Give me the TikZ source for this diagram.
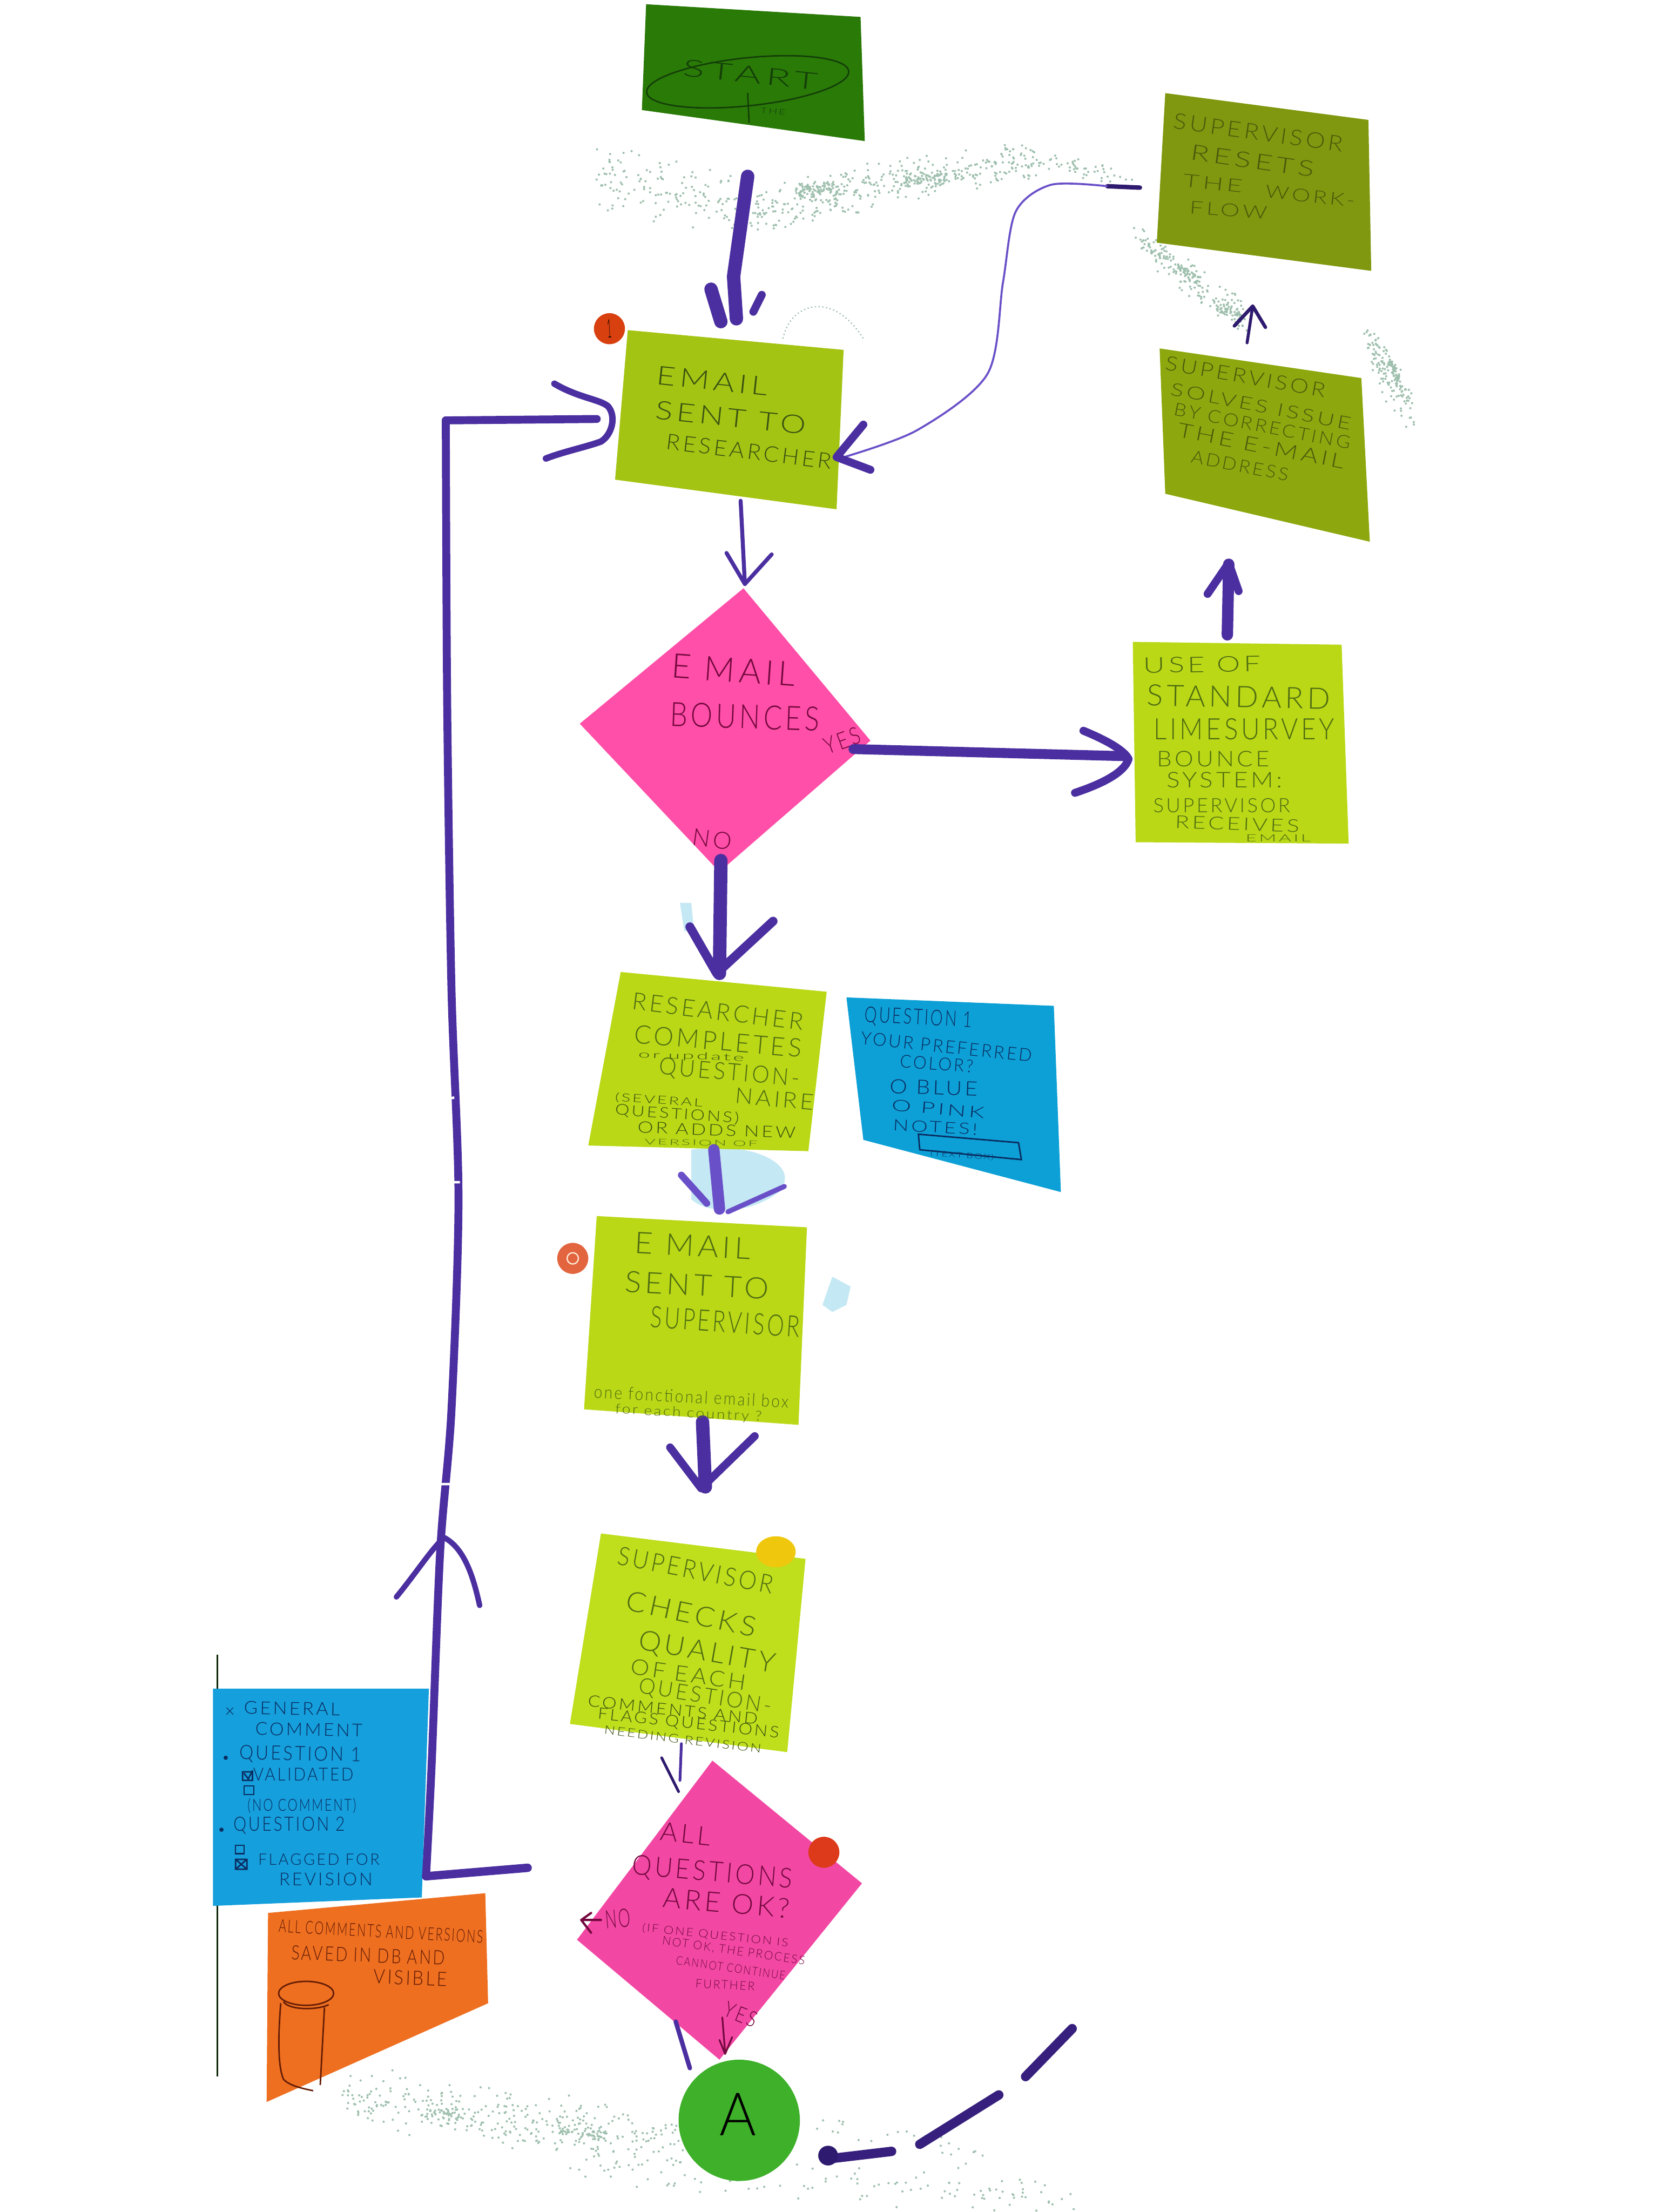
\documentclass[tikz,border=0pt]{standalone}
\usepackage{fontspec}
\usepackage{graphicx}
\usetikzlibrary{shapes.geometric}
\setmainfont{Lato}[UprightFont=* Light,LetterSpace=12]
\newlength\uu \setlength\uu{0.02cm}
\definecolor{purp}{HTML}{4B2FA0}
\definecolor{purplt}{HTML}{6A50C8}
\definecolor{purdk}{HTML}{2E1A6E}
\definecolor{startc}{HTML}{2A7A08}
\definecolor{resetc}{HTML}{7F980F}
\definecolor{solvec}{HTML}{8CA80E}
\definecolor{mailc}{HTML}{A4C414}
\definecolor{limec}{HTML}{BAD816}
\definecolor{lime2c}{HTML}{BFDE1C}
\definecolor{pinkc}{HTML}{FF4FA8}
\definecolor{pink2c}{HTML}{F248A4}
\definecolor{bluec}{HTML}{0DA0D6}
\definecolor{blue2c}{HTML}{159FDC}
\definecolor{orangec}{HTML}{EE6F20}
\definecolor{circc}{HTML}{3EB02A}
\definecolor{speck}{HTML}{9FC0AE}
\definecolor{blot}{HTML}{C4E8F4}
\definecolor{inkstart}{HTML}{143F08}
\definecolor{inkolive}{HTML}{4A5A0C}
\definecolor{inkmail}{HTML}{3A5210}
\definecolor{inklime}{HTML}{4F6C12}
\definecolor{inkblue}{HTML}{0A2C60}
\definecolor{inkpink}{HTML}{74083F}
\definecolor{inkor}{HTML}{641C06}
\definecolor{pinred}{HTML}{D8400F}
\definecolor{pinsalm}{HTML}{E2653F}
\definecolor{pinyel}{HTML}{EFC80E}
\definecolor{pinred2}{HTML}{DC3A1A}
% one line of handwriting: name, position, rotation, width, height, text
\newcommand\hw[7][inkmail]{\node[hand,text=#1,rotate=#4] (#2) at (#3) {\resizebox{#5\uu}{#6\uu}{#7}};}
% specks along a band from (x0,y0) to (x1,y1), half width h, n dots
\newcommand\specks[6]{\foreach \i in {1,...,#6}{%
  \pgfmathsetmacro\pt{rnd}\pgfmathsetmacro\po{(rnd+rnd-1)*#5}%
  \pgfmathsetmacro\pq{(rnd+rnd-1)*#5*0.4}%
  \pgfmathsetmacro\px{#1+\pt*(#3-#1)+\pq}\pgfmathsetmacro\py{#2+\pt*(#4-#2)+\po}%
  \fill[speck] (\px,\py) circle (0.8);}}
\tikzset{
  hand/.style={inner sep=0pt,outer sep=0pt,anchor=center},
  thickpen/.style={draw=purp,line width=5.4pt,line cap=round,line join=round},
  midpen/.style={draw=purp,line width=3.2pt,line cap=round,line join=round},
  thinpen/.style={draw=purp,line width=1.1pt,line cap=round,line join=round},
  notepen/.style={line width=.6pt,line cap=round,line join=round},
}
\begin{document}
\begin{tikzpicture}[x=0.02cm,y=-0.02cm]
\useasboundingbox (0,0) rectangle (1176,1568);
\fill[white] (0,0) rectangle (1176,1568);
\pgfmathsetseed{7}
% specks of the wiped board
\specks{422}{125}{535}{150}{26}{150}
\specks{535}{150}{640}{128}{20}{220}
\specks{640}{128}{735}{114}{16}{170}
\specks{735}{114}{800}{128}{8}{50}
\specks{808}{170}{885}{228}{14}{170}
\specks{970}{238}{1000}{295}{16}{130}
\specks{245}{1485}{480}{1520}{24}{320}
\specks{400}{1535}{760}{1558}{16}{120}
\specks{570}{1500}{700}{1530}{14}{25}
% denser clumps
\specks{565}{135}{590}{133}{6}{60}
\specks{640}{128}{670}{125}{5}{60}
\specks{835}{190}{850}{198}{4}{40}
\specks{862}{218}{880}{225}{4}{40}
\specks{985}{255}{992}{270}{5}{40}
\specks{300}{1495}{330}{1500}{6}{40}
\specks{395}{1510}{430}{1515}{6}{50}
% light blue blots
\fill[blot] (490,815) .. controls (530,808) and (570,825) .. (552,845) .. controls (530,862) and (500,860) .. (490,850) -- cycle;
\fill[blot] (590,905) -- (603,912) -- (600,925) -- (590,930) -- (583,925) -- cycle;
\fill[blot] (482,640) -- (490,640) -- (492,660) -- (485,660) -- cycle;
\draw[speck,line width=.5pt,densely dotted] (555,240) .. controls (560,215) and (590,205) .. (612,240);

% notes
\fill[startc] (458,3) -- (610,12) -- (613,100) -- (455,78) -- cycle;
\fill[resetc] (826,66) -- (970,85) -- (972,192) -- (820,172) -- cycle;
\fill[solvec] (822,247) -- (965,268) -- (971,384) -- (826,350) -- cycle;
\fill[mailc] (445,234) -- (598,248) -- (593,361) -- (436,340) -- cycle;
\fill[pinkc] (527,417) -- (617,525) -- (510,618) -- (411,513) -- cycle;
\fill[limec] (803,455) -- (951,457) -- (956,598) -- (805,597) -- cycle;
\fill[limec] (440,689) -- (586,703) -- (573,816) -- (417,812) -- cycle;
\fill[bluec] (600,707) -- (747,713) -- (752,845) -- (612,808) -- cycle;
\fill[limec] (423,862) -- (572,870) -- (566,1010) -- (414,999) -- cycle;
\fill[lime2c] (426,1087) -- (571,1105) -- (558,1242) -- (404,1222) -- cycle;
\fill[pink2c] (505,1248) -- (611,1335) -- (510,1460) -- (409,1375) -- cycle;
\fill[blue2c] (151,1197) -- (304,1197) -- (299,1345) -- (151,1351) -- cycle;
\fill[orangec] (190,1356) -- (344,1342) -- (346,1420) -- (189,1490) -- cycle;
\node[circle,fill=circc,minimum size=86\uu,inner sep=0pt] (nodeA) at (524,1503) {};
% pins
\node[circle,fill=pinred,minimum size=22\uu,inner sep=0pt] (pinone) at (432,233) {};
\node[circle,fill=pinsalm,minimum size=22\uu,inner sep=0pt] (pintwo) at (406,892) {};
\node[ellipse,fill=pinyel,minimum width=28\uu,minimum height=22\uu,inner sep=0pt] (pinthree) at (550,1100) {};
\node[circle,fill=pinred2,minimum size=22\uu,inner sep=0pt] (pinfour) at (584,1313) {};
\draw[white!85!orange,line width=.5pt] (pintwo) circle (4);

% thin board lines beside the blue note
\draw[inkstart!60!black,line width=.6pt] (154,1173) -- (154,1197) (154,1351) -- (154,1472);

% connector end points
\coordinate (st1) at (530,125); \coordinate (st2) at (522,226);
\coordinate (mr1) at (525,355); \coordinate (mr2) at (528,414);
\coordinate (d1y) at (605,531); \coordinate (d1t) at (797,536);
\coordinate (us1) at (870,450); \coordinate (us2) at (871,400);
\coordinate (so1) at (884,243); \coordinate (so2) at (888,217);
\coordinate (re1) at (808,133); \coordinate (re2) at (595,325);
\coordinate (d1n) at (511,610); \coordinate (d1e) at (510,690);
\coordinate (rc1) at (506,815); \coordinate (rc2) at (510,857);
\coordinate (es1) at (498,1008); \coordinate (es2) at (500,1054);
\coordinate (ch1) at (483,1236); \coordinate (ch2) at (482,1262);
\coordinate (dy1) at (479,1433); \coordinate (dy2) at (489,1466);
\coordinate (no1) at (374,1324); \coordinate (no2) at (423,297);

% Start -> Email
\draw[thickpen] (st1) -- (520,196) -- (st2);
\draw[thickpen] (504,205) -- (511,228);
\draw[midpen] (540,209) -- (534,221);
% Resets -> Email
\draw[purdk,line width=1.8pt,line cap=round] (re1) -- (785,132);
\draw[purplt,line width=.8pt] plot[smooth] coordinates {(785,132) (745,131) (720,150) (711,200) (700,265) (650,305) (re2)};
\draw[midpen] (612,301) -- (593,324) -- (617,333);
% Email -> diamond
\draw[thinpen,line width=1.6pt] (mr1) -- (mr2);
\draw[thinpen,line width=1.6pt] (515,392) -- (mr2) -- (547,393);
% Diamond YES -> bounce system
\draw[midpen,line width=4pt] (d1y) -- (d1t);
\draw[midpen] (768,518) .. controls (785,525) and (797,532) .. (800,538) .. controls (797,548) and (780,556) .. (762,562);
% Bounce -> solves
\draw[thickpen,line width=4.6pt] (us1) -- (us2);
\draw[midpen] (856,421) -- (871,399) -- (878,419);
% Solves -> resets
\draw[purdk,line width=1.2pt,line cap=round,line join=round] (so1) -- (so2);
\draw[purdk,line width=1.4pt,line cap=round,line join=round] (875,231) -- (so2) -- (897,232);
% Diamond NO -> researcher
\draw[thickpen] (d1n) -- (d1e);
\draw[midpen,line width=3.6pt] (489,657) -- (508,690) -- (548,653);
% Researcher -> email to supervisor
\draw[draw=purplt,line width=4.6pt,line cap=round] (rc1) -- (rc2);
\draw[midpen,draw=purplt,line width=2.8pt] (483,833) -- (501,853);
\draw[midpen,draw=purplt,line width=2pt] (556,841) -- (516,859);
% Email to supervisor -> checks
\draw[thickpen] (es1) -- (es2);
\draw[midpen] (475,1026) -- (497,1055) -- (535,1018);
% Checks -> diamond 2
\draw[thinpen] (ch1) -- (ch2);
\draw[thinpen,draw=purdk] (469,1246) -- (481,1270);
% Diamond 2 YES -> A
\draw[thinpen,line width=1.8pt] (dy1) -- (dy2);
% dashed way into A
\draw[midpen,line width=3.8pt,draw=purdk!70!purp] (760,1438) -- (727,1472);
\draw[midpen,line width=3.8pt,draw=purdk!70!purp] (708,1485) -- (652,1520);
\draw[midpen,line width=3.8pt,draw=purdk!70!purp] (632,1525) -- (590,1530);
\fill[purdk] (587,1528) circle (7);
% NO -> loop back to the email note
\draw[midpen,line width=3.4pt] plot[sharp plot] coordinates {(no1) (302,1330)};
\draw[midpen,line width=3.2pt] plot[smooth] coordinates {(302,1330) (306,1250) (312,1100) (320,1000) (325,850) (320,700) (317,500) (316,298)};
\draw[midpen,line width=3.2pt] (316,298) -- (no2);
\draw[midpen,line width=2.6pt] (393,272) .. controls (410,282) and (425,283) .. (431,288) .. controls (437,295) and (434,308) .. (426,313) .. controls (415,317) and (400,320) .. (387,325);
\draw[midpen,line width=2.2pt] (281,1132) .. controls (295,1115) and (308,1095) .. (315,1090) .. controls (330,1098) and (336,1120) .. (340,1138);
\draw[white,line width=1pt] (305,680) -- (313,680) (312,780) -- (322,778) (316,838) -- (326,838) (312,1052) -- (322,1052);

% text: Start
\draw[inkstart,line width=.6pt,rotate around={6:(530,58)}] (530,58) ellipse (72 and 17);
\draw[inkstart,line width=.6pt] (530,66) -- (531,87);
\hw[inkstart]{tstart}{532,53}{-6}{96}{12}{START}
\hw[inkstart]{tthe}{548,79}{-5}{18}{4}{THE}
% Resets
\hw[inkolive]{ta1}{892,94}{-8}{121}{11}{SUPERVISOR}
\hw[inkolive]{ta2}{888,114}{-8}{88}{11}{RESETS}
\hw[inkolive]{ta3}{860,130}{-6}{42}{9}{THE}
\hw[inkolive]{ta4}{929,139}{-6}{64}{9}{WORK-}
\hw[inkolive]{ta5}{871,149}{-4}{55}{9}{FLOW}
% Solves
\hw[inkolive]{tb1}{883,267}{-10}{115}{10}{SUPERVISOR}
\hw[inkolive]{tb2}{894,288}{-11}{130}{9}{SOLVES ISSUE}
\hw[inkolive]{tb3}{895,302}{-11}{127}{9}{BY CORRECTING}
\hw[inkolive]{tb4}{894,316}{-11}{120}{10}{THE E-MAIL}
\hw[inkolive]{tb5}{879,330}{-11}{70}{9}{ADDRESS}
% Email to researcher
\hw{tc1}{505,270}{-6}{79}{13}{EMAIL}
\hw{tc2}{518,296}{-6}{107}{13}{SENT TO}
\hw{tc3}{531,320}{-7}{118}{11}{RESEARCHER}
\hw[black]{tpin}{432,233}{3}{3}{13}{1}
% Diamond 1
\hw[inkpink]{td1}{520,475}{-4}{88}{17}{E MAIL}
\hw[inkpink]{td2}{528,508}{-2}{106}{17}{BOUNCES}
\hw[inkpink]{td3}{597,525}{20}{26}{12}{YES}
\hw[inkpink]{td4}{505,595}{-8}{28}{12}{NO}
% Use of standard
\hw[inklime]{te1}{852,471}{1}{83}{11}{USE OF}
\hw[inklime]{te2}{878,494}{-1}{130}{15}{STANDARD}
\hw[inklime]{te3}{882,517}{0}{128}{15}{LIMESURVEY}
\hw[inklime]{te4}{860,538}{0}{80}{11}{BOUNCE}
\hw[inklime]{te5}{868,553}{0}{82}{11}{SYSTEM:}
\hw[inklime]{te6}{866,571}{0}{97}{10}{SUPERVISOR}
\hw[inklime]{te7}{877,584}{-2}{88}{9}{RECEIVES}
\hw[inklime]{te8}{906,594}{0}{46}{5}{EMAIL}
% Researcher completes
\hw[inklime]{tf1}{509,717}{-7}{122}{12}{RESEARCHER}
\hw[inklime]{tf2}{509,738}{-5}{119}{13}{COMPLETES}
\hw[inkmail]{tf3}{490,749}{-2}{75}{5}{or update}
\hw[inklime]{tf4}{517,761}{-5}{100}{12}{QUESTION-}
\hw[inklime]{tf5}{549,779}{-5}{56}{11}{NAIRE}
\hw[inkmail]{tf6}{467,780}{-4}{62}{6}{(SEVERAL}
\hw[inkmail]{tf7}{480,790}{-4}{88}{8}{QUESTIONS)}
\hw[inkmail]{tf8}{508,801}{-2}{112}{8}{OR ADDS NEW}
\hw[inklime]{tf9}{497,810}{-1}{80}{4}{VERSION OF}
% Question 1
\hw[inkblue]{tg1}{651,722}{-3}{76}{11}{QUESTION 1}
\hw[inkblue]{tg2}{671,742}{-6}{122}{9}{YOUR PREFERRED}
\hw[inkblue]{tg3}{664,754}{-4}{52}{9}{COLOR?}
\hw[inkblue]{tg4}{662,771}{-2}{62}{10}{O BLUE}
\hw[inkblue]{tg5}{665,786}{-5}{66}{8}{O PINK}
\hw[inkblue]{tg6}{663,799}{-3}{60}{8}{NOTES!}
\draw[inkblue,line width=.6pt] (651,804) -- (722,810) -- (724,822) -- (652,815) -- cycle;
\hw[inkblue]{tg7}{682,819}{-4}{45}{4}{(TEXT BOX)}
% Email to supervisor
\hw[inklime]{th1}{491,883}{-3}{82}{15}{E MAIL}
\hw[inklime]{th2}{494,911}{-3}{102}{15}{SENT TO}
\hw[inklime]{th3}{514,937}{-4}{106}{15}{SUPERVISOR}
\hw[inklime]{th4}{490,990}{-3}{138}{9}{one fonctional email box}
\hw[inklime]{th5}{488,1002}{-3}{104}{7}{for each country ?}
% Supervisor checks
\hw[inklime]{ti1}{493,1113}{-11}{112}{13}{SUPERVISOR}
\hw[inklime]{ti2}{490,1144}{-12}{94}{14}{CHECKS}
\hw[inklime]{ti3}{501,1172}{-10}{98}{14}{QUALITY}
\hw[inklime]{ti4}{488,1187}{-8}{82}{11}{OF EACH}
\hw[inklime]{ti5}{500,1203}{-9}{95}{11}{QUESTION-}
\hw[inkmail]{ti6}{477,1212}{-6}{121}{8}{COMMENTS AND}
\hw[inkmail]{ti7}{488,1222}{-6}{129}{8}{FLAGS QUESTIONS}
\hw[inkmail]{ti8}{484,1233}{-7}{112}{6}{NEEDING REVISION}
% Diamond 2
\hw[inkpink]{tj1}{486,1300}{-6}{36}{13}{ALL}
\hw[inkpink]{tj2}{505,1328}{-5}{114}{14}{QUESTIONS}
\hw[inkpink]{tj3}{515,1349}{-5}{90}{14}{ARE OK?}
\hw[inkpink]{tj4}{438,1360}{5}{18}{13}{NO}
\hw[inkpink]{tj5}{507,1372}{-6}{104}{6}{(IF ONE QUESTION IS}
\hw[inkpink]{tj6}{520,1383}{-8}{102}{6}{NOT OK, THE PROCESS}
\hw[inkpink]{tj7}{518,1395}{-8}{78}{6}{CANNOT CONTINUE}
\hw[inkpink]{tj8}{514,1407}{-3}{42}{6}{FURTHER}
\hw[inkpink]{tj9}{525,1428}{-22}{24}{11}{YES}
\draw[inkpink,notepen,line width=.9pt] (426,1361) -- (412,1361) (419,1356) -- (412,1361) -- (419,1370);
\draw[inkpink,notepen,line width=.7pt] (512,1430) -- (514,1455) (510,1446) -- (514,1456) -- (519,1444);
% Circle A
\hw[black]{tA}{523,1499}{0}{26}{30}{A}
% General comment
\hw[inkblue]{tk1}{207,1211}{-1}{68}{9}{GENERAL}
\hw[inkblue]{tk2}{219,1226}{-1}{76}{9}{COMMENT}
\hw[inkblue]{tk0}{163,1213}{0}{6}{5}{x}
\fill[inkblue] (160,1246) circle (1.5);
\hw[inkblue]{tk3}{213,1244}{-1}{86}{10}{QUESTION 1}
\draw[inkblue,line width=.6pt] (172,1256) rectangle (179,1262) (173,1257) -- (176,1261) -- (179,1255);
\hw[inkblue]{tk4}{215,1258}{0}{71}{9}{VALIDATED}
\draw[inkblue,line width=.5pt] (173,1266) rectangle (180,1272);
\hw[inkblue]{tk5}{214,1280}{0}{77}{9}{(NO COMMENT)}
\fill[inkblue] (157,1297) circle (1.5);
\hw[inkblue]{tk6}{205,1294}{0}{79}{10}{QUESTION 2}
\draw[inkblue,line width=.5pt] (167,1308) rectangle (173,1314);
\draw[inkblue,line width=.6pt] (167,1318) rectangle (175,1325) (167,1318) -- (175,1325) (175,1318) -- (167,1325);
\hw[inkblue]{tk7}{226,1318}{0}{86}{8}{FLAGGED FOR}
\hw[inkblue]{tk8}{231,1332}{0}{66}{9}{REVISION}
% Orange
\hw[inkor]{tl1}{270,1369}{-3}{145}{9}{ALL COMMENTS AND VERSIONS}
\hw[inkor]{tl2}{261,1386}{-2}{109}{10}{SAVED IN DB AND}
\hw[inkor]{tl3}{291,1402}{-2}{52}{10}{VISIBLE}
\draw[inkor,line width=.6pt] (217,1413) ellipse (19.5 and 8.5);
\draw[inkor,line width=.6pt] (201,1419) .. controls (205,1425) and (225,1425) .. (233,1421);
\draw[inkor,line width=.6pt] (199,1420) .. controls (197,1445) and (197,1465) .. (201,1474) .. controls (205,1478) and (212,1480) .. (222,1482);
\draw[inkor,line width=.6pt] (230,1423) -- (227,1478);
\end{tikzpicture}
\end{document}
